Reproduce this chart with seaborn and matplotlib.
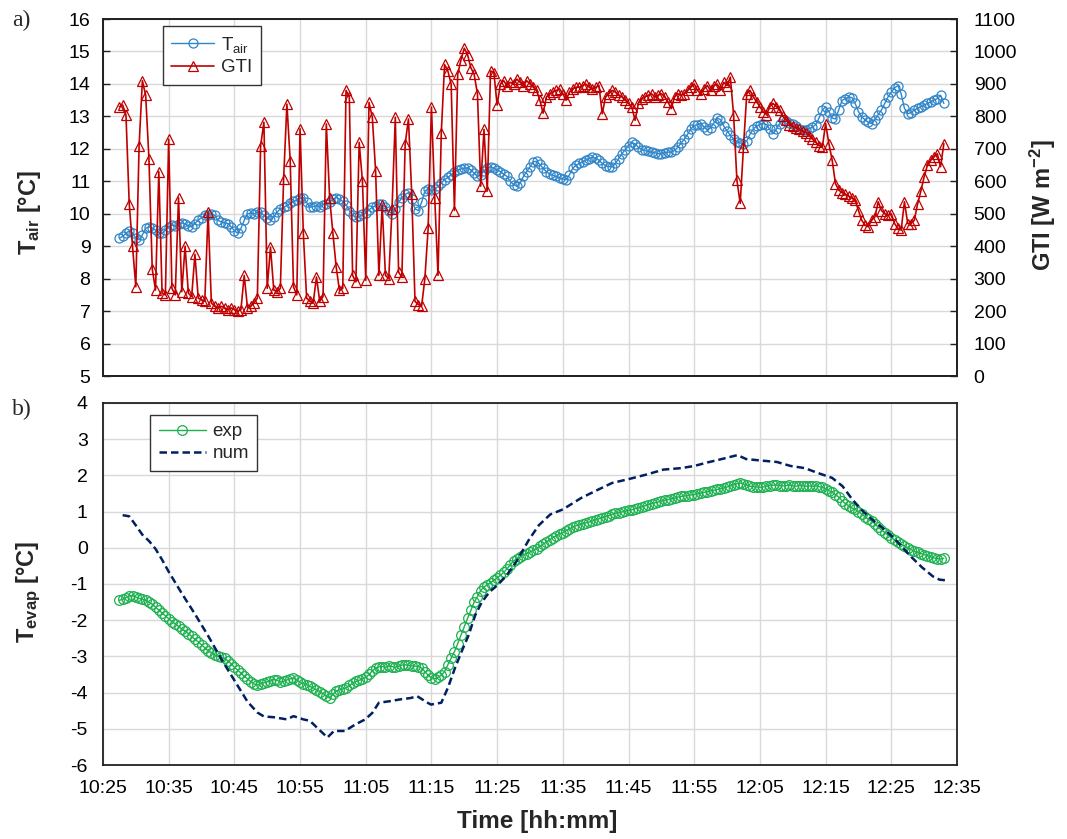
import pandas as pd
import seaborn as sns
import matplotlib.pyplot as plt
import matplotlib.dates as mdates


DAY = '2021-03-15 '
# measured series are logged every 30 s starting at 10:27:30
T_START = DAY + '10:27:30'

t_air = [
    9.25, 9.30, 9.40, 9.48, 9.40, 9.25, 9.20, 9.35, 9.55, 9.60,
    9.55, 9.50, 9.42, 9.40, 9.50, 9.60, 9.65, 9.62, 9.70, 9.72,
    9.68, 9.62, 9.60, 9.70, 9.80, 9.88, 9.95, 9.95, 10.00, 9.95,
    9.80, 9.75, 9.72, 9.70, 9.60, 9.48, 9.40, 9.55, 9.80, 10.00,
    10.02, 10.00, 10.05, 10.05, 9.95, 9.88, 9.80, 9.90, 10.05, 10.15,
    10.20, 10.25, 10.32, 10.38, 10.42, 10.48, 10.50, 10.35, 10.20, 10.22,
    10.25, 10.22, 10.28, 10.30, 10.35, 10.45, 10.50, 10.45, 10.38, 10.28,
    10.10, 9.95, 9.90, 9.92, 9.98, 10.02, 10.12, 10.20, 10.25, 10.30,
    10.30, 10.20, 10.08, 10.00, 10.15, 10.35, 10.50, 10.60, 10.65, 10.45,
    10.15, 10.10, 10.35, 10.70, 10.75, 10.72, 10.75, 10.85, 10.95, 11.05,
    11.12, 11.20, 11.28, 11.35, 11.38, 11.40, 11.42, 11.35, 11.25, 11.15,
    11.20, 11.32, 11.42, 11.45, 11.40, 11.35, 11.30, 11.22, 11.15, 11.00,
    10.90, 10.85, 10.95, 11.15, 11.30, 11.45, 11.60, 11.62, 11.52, 11.40,
    11.30, 11.22, 11.18, 11.15, 11.10, 11.07, 11.05, 11.20, 11.40, 11.50,
    11.55, 11.60, 11.65, 11.70, 11.75, 11.72, 11.65, 11.55, 11.48, 11.45,
    11.45, 11.55, 11.70, 11.85, 11.98, 12.10, 12.20, 12.15, 12.05, 11.98,
    11.95, 11.92, 11.90, 11.88, 11.85, 11.85, 11.88, 11.90, 11.90, 11.95,
    12.05, 12.18, 12.30, 12.45, 12.62, 12.72, 12.75, 12.78, 12.68, 12.57,
    12.65, 12.80, 12.95, 12.90, 12.70, 12.55, 12.42, 12.30, 12.22, 12.18,
    12.16, 12.25, 12.45, 12.62, 12.70, 12.75, 12.78, 12.75, 12.60, 12.47,
    12.60, 12.78, 12.88, 12.85, 12.80, 12.78, 12.70, 12.62, 12.57, 12.58,
    12.62, 12.67, 12.75, 12.95, 13.20, 13.29, 13.15, 12.95, 12.92, 13.20,
    13.49, 13.55, 13.60, 13.58, 13.40, 13.15, 12.98, 12.90, 12.82, 12.78,
    12.90, 13.05, 13.20, 13.40, 13.60, 13.75, 13.88, 13.95, 13.70, 13.25,
    13.08, 13.12, 13.20, 13.25, 13.30, 13.35, 13.40, 13.45, 13.50, 13.55,
    13.65, 13.40,
]

gti = [
    830, 835, 805, 530, 400, 275, 710, 910, 865, 670,
    330, 265, 630, 255, 250, 730, 270, 250, 550, 260,
    400, 255, 245, 375, 240, 235, 230, 505, 225, 215,
    210, 215, 210, 205, 210, 205, 200, 205, 310, 210,
    215, 225, 240, 710, 782, 270, 397, 265, 260, 270,
    608, 838, 664, 275, 250, 762, 440, 240, 230, 225,
    305, 230, 245, 777, 550, 440, 336, 264, 270, 880,
    860, 310, 290, 720, 600, 295, 843, 797, 633, 310,
    526, 310, 300, 515, 797, 320, 305, 715, 792, 560,
    230, 220, 215, 300, 456, 829, 550, 310, 750, 960,
    940, 900, 510, 930, 975, 1010, 990, 950, 930, 870,
    585, 760, 570, 940, 935, 835, 900, 910, 895, 905,
    900, 915, 905, 895, 910, 900, 890, 880, 850, 810,
    860, 870, 875, 880, 885, 870, 850, 875, 885, 890,
    890, 895, 900, 890, 885, 890, 895, 808, 860, 870,
    880, 875, 865, 860, 850, 840, 829, 788, 840, 855,
    860, 865, 870, 860, 865, 870, 860, 845, 824, 860,
    870, 865, 870, 880, 890, 900, 880, 870, 885, 895,
    880, 895, 900, 880, 905, 895, 921, 803, 603, 532,
    706, 870, 880, 860, 845, 830, 815, 805, 830, 840,
    830, 820, 800, 790, 775, 770, 765, 760, 755, 750,
    740, 730, 720, 710, 705, 778, 716, 665, 593, 573,
    565, 560, 555, 548, 542, 510, 480, 465, 460, 480,
    490, 537, 510, 500, 495, 500, 470, 455, 450, 537,
    470, 470, 480, 530, 570, 614, 650, 665, 675, 685,
    645, 716,
]

t_evap_exp = [
    -1.45, -1.42, -1.38, -1.33, -1.32, -1.36, -1.40, -1.42, -1.45, -1.50,
    -1.56, -1.64, -1.72, -1.80, -1.88, -1.96, -2.04, -2.10, -2.17, -2.24,
    -2.30, -2.37, -2.45, -2.53, -2.60, -2.68, -2.76, -2.84, -2.90, -2.96,
    -3.00, -3.03, -3.05, -3.12, -3.20, -3.30, -3.38, -3.46, -3.55, -3.62,
    -3.70, -3.76, -3.79, -3.76, -3.73, -3.70, -3.68, -3.64, -3.66, -3.70,
    -3.69, -3.65, -3.62, -3.60, -3.65, -3.72, -3.75, -3.78, -3.83, -3.87,
    -3.92, -3.97, -4.03, -4.10, -4.15, -4.05, -3.96, -3.92, -3.90, -3.87,
    -3.80, -3.74, -3.69, -3.66, -3.62, -3.58, -3.50, -3.40, -3.32, -3.29,
    -3.28, -3.30, -3.27, -3.28, -3.30, -3.27, -3.24, -3.23, -3.25, -3.26,
    -3.27, -3.28, -3.32, -3.42, -3.52, -3.60, -3.62, -3.58, -3.52, -3.42,
    -3.23, -3.05, -2.87, -2.65, -2.41, -2.18, -1.95, -1.73, -1.50, -1.35,
    -1.18, -1.08, -1.02, -0.96, -0.90, -0.83, -0.76, -0.68, -0.58, -0.47,
    -0.36, -0.31, -0.26, -0.20, -0.16, -0.12, -0.07, -0.02, 0.04, 0.10,
    0.16, 0.22, 0.28, 0.33, 0.38, 0.42, 0.47, 0.52, 0.57, 0.61,
    0.63, 0.66, 0.69, 0.71, 0.74, 0.77, 0.80, 0.83, 0.86, 0.89,
    0.92, 0.95, 0.97, 0.99, 1.01, 1.03, 1.05, 1.08, 1.10, 1.13,
    1.16, 1.19, 1.22, 1.24, 1.26, 1.29, 1.31, 1.33, 1.35, 1.37,
    1.40, 1.42, 1.43, 1.44, 1.46, 1.47, 1.49, 1.51, 1.53, 1.55,
    1.57, 1.59, 1.61, 1.63, 1.65, 1.68, 1.71, 1.74, 1.77, 1.79,
    1.76, 1.73, 1.70, 1.69, 1.68, 1.67, 1.68, 1.70, 1.72, 1.73,
    1.73, 1.72, 1.71, 1.72, 1.73, 1.71, 1.70, 1.72, 1.71, 1.70,
    1.71, 1.70, 1.71, 1.69, 1.67, 1.63, 1.58, 1.53, 1.47, 1.40,
    1.30, 1.22, 1.16, 1.10, 1.06, 1.00, 0.93, 0.86, 0.79, 0.74,
    0.66, 0.57, 0.49, 0.42, 0.35, 0.28, 0.22, 0.16, 0.10, 0.05,
    0.00, -0.05, -0.10, -0.13, -0.16, -0.19, -0.22, -0.25, -0.28, -0.30,
    -0.31, -0.29,
]

num_time = [
    '10:28:00', '10:29:00', '10:30:00', '10:31:00', '10:32:00', '10:33:00',
    '10:34:00', '10:35:00', '10:37:00', '10:39:00', '10:41:00', '10:43:00',
    '10:45:00', '10:47:00', '10:48:30', '10:49:30', '10:51:00', '10:53:00',
    '10:54:00', '10:55:30', '10:56:30', '10:58:00', '10:59:10', '11:00:10',
    '11:01:50', '11:03:25', '11:04:55', '11:06:00', '11:07:00', '11:08:35',
    '11:10:10', '11:11:50', '11:12:50', '11:14:25', '11:14:55', '11:16:30',
    '11:17:30', '11:18:35', '11:19:35', '11:20:40', '11:21:40', '11:22:40',
    '11:23:50', '11:25:00', '11:26:25', '11:28:00', '11:29:50', '11:31:20',
    '11:33:05', '11:35:00', '11:37:50', '11:40:25', '11:42:30', '11:45:05',
    '11:47:40', '11:50:20', '11:53:00', '11:55:00', '11:57:05', '11:59:10',
    '12:01:35', '12:02:55', '12:05:10', '12:07:35', '12:09:40', '12:11:50',
    '12:13:55', '12:16:00', '12:17:35', '12:19:05', '12:20:40', '12:22:20',
    '12:23:55', '12:25:20', '12:26:30', '12:28:05', '12:29:40', '12:31:20',
    '12:32:20', '12:33:20',
]
t_evap_num = [
    0.90, 0.87, 0.62, 0.36, 0.19, -0.03,
    -0.33, -0.66, -1.26, -1.83, -2.43, -3.07,
    -3.66, -4.25, -4.55, -4.66, -4.68, -4.74,
    -4.65, -4.74, -4.78, -5.04, -5.24, -5.06,
    -5.06, -4.88, -4.74, -4.56, -4.28, -4.24,
    -4.19, -4.15, -4.10, -4.28, -4.33, -4.28,
    -3.87, -3.32, -2.87, -2.41, -1.86, -1.50,
    -1.22, -1.04, -0.77, -0.36, 0.22, 0.62,
    0.92, 1.06, 1.38, 1.61, 1.79, 1.90,
    2.02, 2.16, 2.20, 2.26, 2.36, 2.45,
    2.56, 2.45, 2.41, 2.37, 2.26, 2.20,
    2.06, 1.93, 1.70, 1.33, 1.01, 0.74,
    0.51, 0.28, 0.05, -0.26, -0.54, -0.79,
    -0.88, -0.90,
]

BLUE = '#2F85C8'
RED = '#C00000'
GREEN = '#1DB050'
NAVY = '#002060'
GRID = '#d9d9d9'


def style_axis(ax, pad):
    ax.set_axisbelow(True)
    for sp in ax.spines.values():
        sp.set_color('#222222')
        sp.set_linewidth(1.3)
    ax.tick_params(direction='in', length=5, width=1, labelsize=14, pad=pad,
                   colors='#222222', labelcolor='black')


sns.set_style('white')
plt.rcParams['font.family'] = ['Liberation Sans', 'DejaVu Sans']
plt.rcParams['axes.unicode_minus'] = False
plt.rcParams['mathtext.fontset'] = 'custom'
plt.rcParams['mathtext.rm'] = 'Liberation Sans'
plt.rcParams['mathtext.it'] = 'Liberation Sans:italic'
plt.rcParams['mathtext.bf'] = 'Liberation Sans:bold'

times = pd.date_range(T_START, periods=len(t_air), freq='30s')
df = pd.DataFrame({'time': times, 'Tair': t_air, 'GTI': gti, 'exp': t_evap_exp})
num_df = pd.DataFrame({'time': pd.to_datetime([DAY + t for t in num_time]),
                       'num': t_evap_num})

fig = plt.figure(figsize=(10.67, 8.39), dpi=100)
ax_a = fig.add_axes([0.0965, 0.5518, 0.8004, 0.4255])
ax_b = fig.add_axes([0.0965, 0.0882, 0.8004, 0.4315])
ax_g = ax_a.twinx()

# a) air temperature + irradiance
sns.lineplot(data=df, x='time', y='Tair', ax=ax_a, estimator=None, color=BLUE,
             linewidth=1, marker='o', markersize=6.5, markerfacecolor='none',
             markeredgecolor=BLUE, markeredgewidth=0.9, label=r'T$_{\mathrm{air}}$')
sns.lineplot(data=df, x='time', y='GTI', ax=ax_g, estimator=None, color=RED,
             linewidth=1.2, marker='^', markersize=7.5, markerfacecolor='none',
             markeredgecolor=RED, markeredgewidth=0.9, label='GTI')

# b) evaporator temperature
sns.lineplot(data=df, x='time', y='exp', ax=ax_b, estimator=None, color=GREEN,
             linewidth=1, marker='o', markersize=7, markerfacecolor='none',
             markeredgecolor=GREEN, markeredgewidth=0.9, label='exp')
sns.lineplot(data=num_df, x='time', y='num', ax=ax_b, estimator=None, color=NAVY,
             linewidth=1.8, linestyle=(0, (3, 1.6)), label='num')

x0 = pd.Timestamp(DAY + '10:25')
x1 = pd.Timestamp(DAY + '12:35')
for ax in (ax_a, ax_b):
    ax.set_xlim(x0, x1)
    ax.xaxis.set_major_locator(mdates.MinuteLocator(byminute=range(5, 60, 10)))
    ax.xaxis.set_major_formatter(mdates.DateFormatter('%H:%M'))
    ax.grid(True, color=GRID, linewidth=1)
style_axis(ax_a, 9)
style_axis(ax_b, 11)
style_axis(ax_g, 12)
ax_g.grid(False)

ax_a.set_ylim(5, 16)
ax_a.set_yticks(range(5, 17))
ax_g.set_ylim(0, 1100)
ax_g.set_yticks(range(0, 1101, 100))
ax_b.set_ylim(-6, 4)
ax_b.set_yticks(range(-6, 5))
ax_a.tick_params(axis='x', labelbottom=False)

ax_a.set_xlabel('')
ax_a.set_ylabel(r'T$_{\mathbf{air}}$ [°C]', fontsize=17, fontweight='bold')
ax_a.yaxis.set_label_coords(-0.070, 0.457)
ax_g.set_ylabel(r'GTI [W m$^{\mathbf{-2}}$]', fontsize=17, fontweight='bold')
ax_g.yaxis.set_label_coords(1.083, 0.48)
ax_b.set_ylabel(r'T$_{\mathbf{evap}}$ [°C]', fontsize=17, fontweight='bold')
ax_b.yaxis.set_label_coords(-0.070, 0.478)
ax_b.set_xlabel('Time [hh:mm]', fontsize=17.5, fontweight='bold')
ax_b.xaxis.set_label_coords(0.509, -0.125)

h1, l1 = ax_a.get_legend_handles_labels()
h2, l2 = ax_g.get_legend_handles_labels()
if ax_a.get_legend() is not None:
    ax_a.get_legend().remove()
leg = ax_g.legend(h1 + h2, l1 + l2, loc='upper left', bbox_to_anchor=(0.070, 0.980),
                  borderaxespad=0, fontsize=13.5, frameon=True, fancybox=False,
                  edgecolor='#333333', framealpha=1, handlelength=2.3,
                  handletextpad=0.35, labelspacing=0.25, borderpad=0.45)
leg.get_frame().set_linewidth(1)

leg = ax_b.legend(loc='upper left', bbox_to_anchor=(0.0556, 0.967), borderaxespad=0,
                  fontsize=13.5, frameon=True, fancybox=False, edgecolor='#333333',
                  framealpha=1, handlelength=2.5, handletextpad=0.35,
                  labelspacing=0.25, borderpad=0.45)
leg.get_frame().set_linewidth(1)

fig.text(0.011, 0.988, 'a)', fontsize=17, family='Liberation Serif', va='top')
fig.text(0.011, 0.524, 'b)', fontsize=17, family='Liberation Serif', va='top')

fig.savefig('out.png', dpi=100)
